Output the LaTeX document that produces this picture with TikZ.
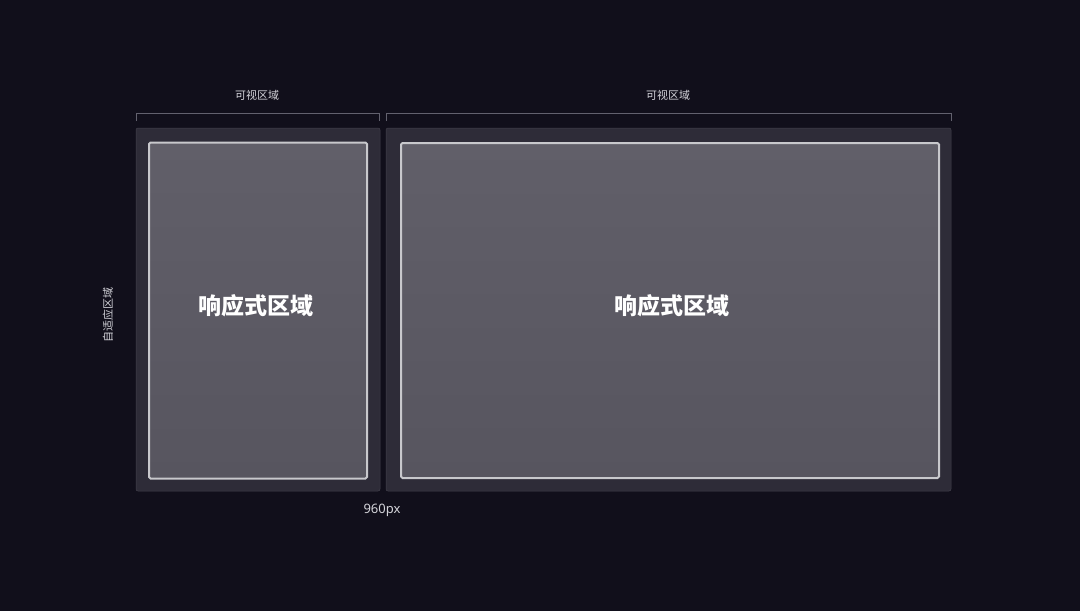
\documentclass[tikz,border=0pt]{standalone}
\usepackage{fontspec}
\setmainfont{Noto Sans}
\newfontfamily\cjk{Noto Sans CJK SC}
\begin{document}
\begin{tikzpicture}[x=1pt,y=-1pt,
  outerpanel/.style={fill=panelc, rounded corners=2pt, draw=panelc!90!white, line width=0.5pt},
  innerbox/.style={top color=innertop, bottom color=innerbot, draw=borderc, line width=2pt, rounded corners=1.5pt},
  bracketline/.style={draw=bracketc, line width=1pt},
  smalltxt/.style={text=labelc, font=\cjk\fontsize{11}{13}\selectfont, inner sep=0pt},
  bigtxt/.style={text=white, font=\cjk\bfseries\fontsize{23}{27}\selectfont, inner sep=0pt},
  pxtxt/.style={text=labelc, font=\fontsize{13}{15}\selectfont, inner sep=0pt}]
\definecolor{bgc}{HTML}{110F1B}
\definecolor{panelc}{HTML}{2E2C38}
\definecolor{innertop}{HTML}{615F69}
\definecolor{innerbot}{HTML}{57555F}
\definecolor{borderc}{HTML}{C8C8CC}
\definecolor{bracketc}{HTML}{62616E}
\definecolor{labelc}{HTML}{D4D4DA}
\useasboundingbox (0,0) rectangle (1080,611);
\fill[bgc] (0,0) rectangle (1080,611);
% brackets
\coordinate (b1l) at (136.5,121);
\coordinate (b1r) at (379.5,121);
\coordinate (b2l) at (386.5,121);
\coordinate (b2r) at (951.5,121);
\draw[bracketline] (b1l) -- ++(0,-8) -| (b1r);
\draw[bracketline] (b2l) -- ++(0,-8) -| (b2r);
\node[smalltxt] (v1) at (257,95) {可视区域};
\node[smalltxt] (v2) at (668,95) {可视区域};
% panels
\path[outerpanel] (136,128) rectangle (380,491);
\path[outerpanel] (386,128) rectangle (951,491);
\node[innerbox, minimum width=218pt, minimum height=336pt, anchor=north west] (r1) at (148,141.5) {};
\node[innerbox, minimum width=538pt, minimum height=335pt, anchor=north west] (r2) at (400,142) {};
\node[bigtxt] (t1) at (256,306) {响应式区域};
\node[bigtxt] (t2) at (672,306) {响应式区域};
\node[smalltxt, rotate=90] (side) at (108,315) {自适应区域};
\node[pxtxt] (px) at (382,510) {960px};
\end{tikzpicture}
\end{document}
